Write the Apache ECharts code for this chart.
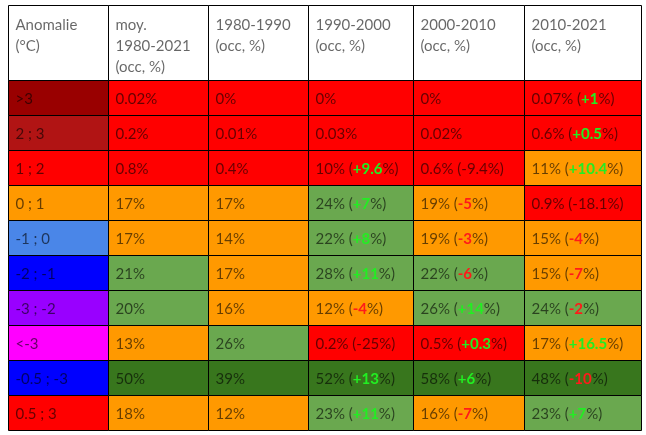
<!DOCTYPE html>
<html>
<head>
<meta charset="utf-8">
<script src="https://cdn.jsdelivr.net/npm/echarts@6/dist/echarts.min.js"></script>
<style>html,body{margin:0;padding:0;background:#fff}#c{width:646px;height:435px}</style>
</head>
<body>
<div id="c"></div>
<script>
// ---- data ----
const headers = ['Anomalie\n(°C)', 'moy.\n1980-2021\n(occ, %)', '1980-1990\n(occ, %)', '1990-2000\n(occ, %)', '2000-2010\n(occ, %)', '2010-2021\n(occ, %)'];
const rowLabels = ['>3', '2 ; 3', '1 ; 2', '0 ; 1', '-1 ; 0', '-2 ; -1', '-3 ; -2', '<-3', '-0.5 ; -3', '0.5 ; 3'];
const avg8021 = ['0.02%', '0.2%', '0.8%', '17%', '17%', '21%', '20%', '13%', '50%', '18%'];
const p8090 = ['0%', '0.01%', '0.4%', '17%', '14%', '17%', '16%', '26%', '39%', '12%'];
const p9000 = ['0%', '0.03%', '10%', '24%', '22%', '28%', '12%', '0.2%', '52%', '23%'];
const d9000 = [null, null, '+9.6', '+7', '+8', '+11', '-4', '-25', '+13', '+11'];
const p0010 = ['0%', '0.02%', '0.6%', '19%', '19%', '22%', '26%', '0.5%', '58%', '16%'];
const d0010 = [null, null, '-9.4', '-5', '-3', '-6', '+14', '+0.3', '+6', '-7'];
const p1021 = ['0.07%', '0.6%', '11%', '0.9%', '15%', '15%', '24%', '17%', '48%', '23%'];
const d1021 = ['+1', '+0.5', '+10.4', '-18.1', '-4', '-7', '-2', '+16.5', '-10', '+7'];
// cell classes (colour categories)
const clsLabel = ['dr', 'r2', 'R', 'O', 'lb', 'B', 'P', 'M', 'B', 'R'];
const cls8021 = ['R', 'R', 'R', 'O', 'O', 'G', 'G', 'O', 'DG', 'O'];
const cls8090 = ['R', 'R', 'R', 'O', 'O', 'O', 'O', 'G', 'DG', 'O'];
const cls9000 = ['R', 'R', 'R', 'G', 'G', 'G', 'O', 'R', 'DG', 'G'];
const cls0010 = ['R', 'R', 'R', 'O', 'O', 'G', 'G', 'R', 'DG', 'O'];
const cls1021 = ['R', 'R', 'O', 'R', 'O', 'O', 'G', 'O', 'DG', 'G'];

// ---- styles / layout ----
const palette = { dr: '#990000', r2: '#b11414', R: '#ff0000', O: '#ff9900', G: '#6aa84f', DG: '#38761d', lb: '#4a86e8', B: '#0000ff', P: '#9900ff', M: '#ff00ff', H: '#ffffff' };
const colW = [100, 100, 100, 105, 111, 117];
const headH = 75, rowH = 35;
const FONT = 'Lato';
const txtCol = 'rgba(0,0,0,0.6)';

const columns = [
  { vals: rowLabels, deltas: null, cls: clsLabel },
  { vals: avg8021, deltas: null, cls: cls8021 },
  { vals: p8090, deltas: null, cls: cls8090 },
  { vals: p9000, deltas: d9000, cls: cls9000 },
  { vals: p0010, deltas: d0010, cls: cls0010 },
  { vals: p1021, deltas: d1021, cls: cls1021 }
];
const colX = [0];
colW.forEach(w => colX.push(colX[colX.length - 1] + w));
const totalW = colX[colX.length - 1];
const totalH = headH + rowH * rowLabels.length;

const data = [];
for (let c = 0; c < columns.length; c++) {
  data.push([c, 0]);
  for (let r = 0; r < rowLabels.length; r++) data.push([c, r + 1]);
}

function cellText(c, r) {
  if (r === 0) return { text: headers[c], header: true };
  const col = columns[c];
  const v = col.vals[r - 1];
  const d = col.deltas ? col.deltas[r - 1] : null;
  const cl = col.cls[r - 1];
  if (!d) return { text: '{n|' + v + '}' };
  let tag = 'n';
  if (d[0] === '+') tag = 'g';
  else if (cl !== 'R') tag = 'r';
  return { text: '{n|' + v + ' (}{' + tag + '|' + d + '}{n|%)}' };
}

const chart = echarts.init(document.getElementById('c'));
chart.setOption({
  animation: false,
  grid: { left: 8, top: 5, width: totalW, height: totalH },
  xAxis: { type: 'value', min: 0, max: totalW, show: false },
  yAxis: { type: 'value', min: 0, max: totalH, inverse: true, show: false },
  series: [{
    type: 'custom',
    coordinateSystem: 'cartesian2d',
    data: data,
    renderItem: function (params, api) {
      const c = api.value(0), r = api.value(1);
      const y0 = r === 0 ? 0 : headH + (r - 1) * rowH;
      const y1 = r === 0 ? headH : y0 + rowH;
      const p0 = api.coord([colX[c], y0]);
      const p1 = api.coord([colX[c + 1], y1]);
      const x = Math.round(p0[0]) + 0.5, y = Math.round(p0[1]) + 0.5;
      const w = Math.round(p1[0]) - Math.round(p0[0]);
      const h = Math.round(p1[1]) - Math.round(p0[1]);
      const fill = r === 0 ? palette.H : palette[columns[c].cls[r - 1]];
      const t = cellText(c, r);
      const textEl = t.header ? {
        type: 'text',
        style: { x: x + 7, y: y + 9, text: t.text, fill: txtCol, font: '15px ' + FONT, lineHeight: 21, verticalAlign: 'top', align: 'left' }
      } : {
        type: 'text',
        style: {
          x: x + 7, y: y + h / 2 + 1, text: t.text, verticalAlign: 'middle', align: 'left',
          rich: {
            n: { fill: txtCol, fontSize: 15, fontFamily: FONT },
            g: { fill: '#22ee22', fontSize: 15, fontFamily: FONT, fontWeight: 'bold' },
            r: { fill: '#ff1a1a', fontSize: 15, fontFamily: FONT, fontWeight: 'bold' }
          }
        }
      };
      return {
        type: 'group',
        children: [
          { type: 'rect', shape: { x: x, y: y, width: w, height: h }, style: { fill: fill, stroke: '#000', lineWidth: 1 } },
          textEl
        ]
      };
    }
  }]
});
</script>
</body>
</html>
